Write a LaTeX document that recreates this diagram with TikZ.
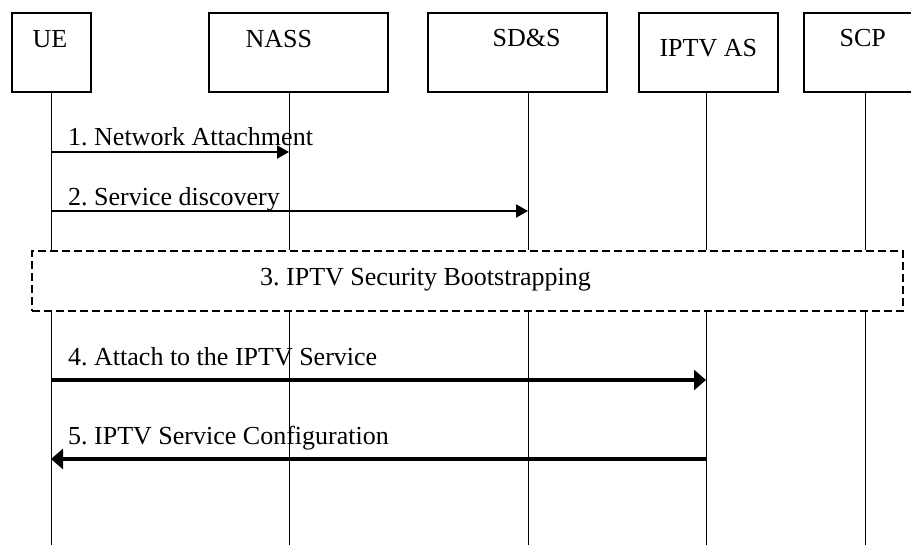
\documentclass[tikz,border=0pt]{standalone}
\usepackage{fontspec}
\setmainfont{Liberation Serif}
\usetikzlibrary{arrows.meta}
\frenchspacing

\tikzset{
    entity/.style={draw, line width=1.3pt, inner sep=0pt},
    lbl/.style={inner sep=0pt, anchor=base west, font=\fontsize{26}{30}\selectfont},
    lifeline/.style={line width=1pt},
    msg/.style={line width=2.2pt, -{Triangle[length=12pt,width=13pt]}},
    bigmsg/.style={line width=3.8pt, -{Triangle[length=12pt,width=20pt]}},
    phase/.style={draw, line width=2pt, dash pattern=on 8pt off 4pt, inner sep=0pt}
}

\begin{document}
\begin{tikzpicture}[x=1pt, y=-1pt]
        \useasboundingbox (0,0) rectangle (911,544);

        \node[entity, minimum width=79, minimum height=79] (ue) at (51.5,52.5) {};
        \node[entity, minimum width=179, minimum height=79] (nass) at (298.5,52.5) {};
        \node[entity, minimum width=179, minimum height=79] (sds) at (517.5,52.5) {};
        \node[entity, minimum width=139, minimum height=79] (iptv) at (708.5,52.5) {};
        \node[entity, minimum width=121, minimum height=79] (scp) at (864.5,52.5) {};

        \node[lbl] (ue-t) at ([shift={(21,35)}]ue.north west) {UE};
        \node[lbl] (nass-t) at ([shift={(37,35)}]nass.north west) {NASS};
        \node[lbl] (sds-t) at ([shift={(65,34)}]sds.north west) {SD\&S};
        \node[lbl] (iptv-t) at ([shift={(21,44)}]iptv.north west) {IPTV AS};
        \node[lbl] (scp-t) at ([shift={(36,34)}]scp.north west) {SCP};

        \coordinate (ue-l) at (51,92);
        \coordinate (nass-l) at (289,92);
        \coordinate (sds-l) at (528,92);
        \coordinate (iptv-l) at (706,92);
        \coordinate (scp-l) at (865,92);
        \coordinate (bottom) at (0,550);

        \node[phase, minimum width=871, minimum height=60] (boot) at (467.5,281) {};
        \node[lbl] (boot-t) at (260,285) {3. IPTV Security Bootstrapping};

        \foreach \n in {ue,nass,sds,iptv,scp} {
            \draw[lifeline] (\n-l) -- (\n-l |- boot.north);
            \draw[lifeline] (\n-l |- boot.south) -- (\n-l |- bottom);
        }

        \coordinate (m1) at (0,152);
        \coordinate (m2) at (0,211);
        \coordinate (m4) at (0,380);
        \coordinate (m5) at (0,459);

        \draw[msg] (ue-l |- m1) -- (nass-l |- m1);
        \node[lbl] (m1-t) at (68,145) {1. Network Attachment};

        \draw[msg] (ue-l |- m2) -- (sds-l |- m2);
        \node[lbl] (m2-t) at (68,205) {2. Service discovery};

        \draw[bigmsg] (ue-l |- m4) -- (iptv-l |- m4);
        \node[lbl] (m4-t) at (68,365) {4. Attach to the IPTV Service};

        \draw[bigmsg] (iptv-l |- m5) -- (ue-l |- m5);
        \node[lbl] (m5-t) at (68,444) {5. IPTV Service Configuration};
    \end{tikzpicture}
\end{document}
